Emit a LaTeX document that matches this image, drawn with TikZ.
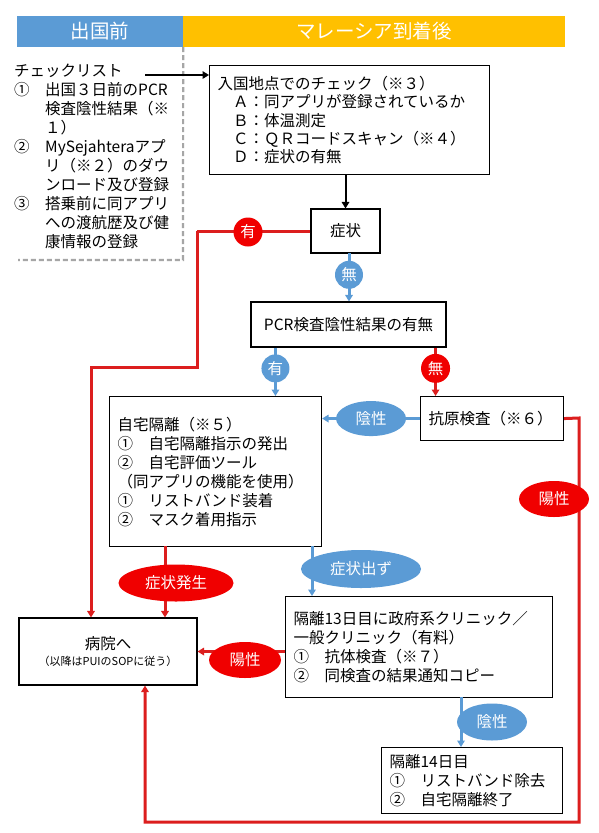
\documentclass[tikz,border=0pt]{standalone}
\usepackage{fontspec}
\setmainfont{Noto Sans CJK JP}
\usetikzlibrary{arrows.meta,shapes.geometric}
\definecolor{hblue}{HTML}{5B9BD5}
\definecolor{hyellow}{HTML}{FFC000}
\definecolor{hred}{HTML}{F00000}
\definecolor{lred}{HTML}{DC1E1E}
\definecolor{dgray}{HTML}{A6A6A6}
\tikzset{
  txt/.style={font=\fontsize{15.5}{19}\selectfont},
  box/.style={draw=black, line width=1.1pt, fill=white, inner xsep=8pt, inner ysep=0pt,
    align=left, anchor=north west, txt},
  cbox/.style={draw=black, line width=1.1pt, fill=white, inner sep=0pt, align=center, txt},
  hdr/.style={inner sep=0pt, minimum height=31, text=white, font=\fontsize{19.5}{22}\selectfont},
  tipA/.tip={Triangle[length=6.5pt,width=7.5pt]},
  karr/.style={line width=2pt, draw=black, -tipA},
  barr/.style={line width=3pt, draw=hblue, -tipA},
  rarr/.style={line width=3pt, draw=lred, -tipA},
  rline/.style={line width=3pt, draw=lred},
  bcirc/.style={circle, fill=hblue, text=white, inner sep=0pt, minimum size=28, txt},
  rcirc/.style={circle, fill=hred, text=white, inner sep=0pt, minimum size=29, txt},
  bell/.style={ellipse, fill=hblue, text=white, inner sep=0pt, txt},
  rell/.style={ellipse, fill=hred, text=white, inner sep=0pt, txt},
}
\begin{document}
\begin{tikzpicture}[x=1pt,y=-1pt]
\useasboundingbox[fill=white] (0,0) rectangle (599,833);

% headers
\node[hdr, fill=hblue, minimum width=166] (h1) at (100,31.5) {出国前};
\node[hdr, fill=hyellow, minimum width=382] (h2) at (374,31.5) {マレーシア到着後};
\draw[dgray, line width=2.2pt, dash pattern=on 5pt off 3pt] (h1.south east) -- (183,260) -- (18,260);

% checklist
\node[txt, align=left, anchor=north west, inner sep=0pt] (cl) at (14,64) {%
チェックリスト\\
①　出国３日前のPCR\\
\hphantom{①　}検査陰性結果（※\\
\hphantom{①　}１）\\
②　MySejahteraアプ\\
\hphantom{②　}リ（※２）のダウ\\
\hphantom{②　}ンロード及び登録\\
③　搭乗前に同アプリ\\
\hphantom{③　}への渡航歴及び健\\
\hphantom{③　}康情報の登録};

% entry check
\node[box, minimum width=280, minimum height=109, text width=264,
  font=\fontsize{15.5}{18.3}\selectfont] (entry) at (209,65) {%
入国地点でのチェック（※３）\\
　Ａ：同アプリが登録されているか\\
　Ｂ：体温測定\\
　Ｃ：ＱＲコードスキャン（※４）\\
　Ｄ：症状の有無};
\coordinate (clend) at (145,75);
\draw[karr] (clend) -- (clend -| entry.west);

% symptom
\node[cbox, minimum width=69, minimum height=44] (sym) at (345.5,231) {症状};
\draw[karr] (entry.south -| sym.north) -- (sym.north);

% PCR
\node[cbox, minimum width=195, minimum height=45] (pcr) at (348.5,324.5) {PCR検査陰性結果の有無};
\coordinate (symb) at (349,253);
\draw[barr] (symb) -- (symb |- pcr.north) node[pos=0.45, bcirc] (c1) {無};

% home quarantine
\node[box, minimum width=212, minimum height=150, text width=196] (home) at (109,396) {%
自宅隔離（※５）\\
①　自宅隔離指示の発出\\
②　自宅評価ツール\\
（同アプリの機能を使用）\\
①　リストバンド装着\\
②　マスク着用指示};

% antigen
\node[box, minimum width=143, minimum height=44, text width=127] (ag) at (420,396) {抗原検査（※６）};

\path (pcr.south west) ++(25,0) coordinate (p1);
\path (pcr.south east) ++(-11,0) coordinate (p2);
\draw[barr] (p1) -- (p1 |- home.north) node[pos=0.43, bcirc] (c2) {有};
\draw[rarr] (p2) -- (p2 |- ag.north) node[pos=0.43, rcirc] (c3) {無};

\coordinate (agw) at (ag.west);
\draw[barr] (agw) -- (agw -| home.east) node[midway, bell, minimum width=70, minimum height=35] (e1) {陰性};

% hospital
\node[cbox, minimum width=178, minimum height=67] (hosp) at (108,651.5) {%
病院へ\\[-3pt]{\fontsize{11}{13}\selectfont （以降はPUIのSOPに従う）}};

% left red path from symptom
\coordinate (r1) at (197,231);
\coordinate (r2) at (197,367);
\coordinate (r3) at (91,367);
\draw[rline] (sym.west) -- (r1);
\draw[rarr] (r1) -- (r2) -- (r3) -- (r3 |- hosp.north);
\node[rcirc] (c4) at (248,232) {有};

% home -> hospital (symptom)
\coordinate (hb1) at (165,546);
\draw[rarr] (hb1) -- (hb1 |- hosp.north);
\node[rell, minimum width=115, minimum height=37] (e2) at (176,583) {症状発生};

% clinic day 13
\node[box, minimum width=267, minimum height=101, text width=251] (c13) at (285,596) {%
隔離13日目に政府系クリニック／\\
一般クリニック（有料）\\
①　抗体検査（※７）\\
②　同検査の結果通知コピー};

\coordinate (hb2) at (312,546);
\draw[barr] (hb2) -- (hb2 |- c13.north);
\node[bell, minimum width=120, minimum height=38] (e3) at (361,569) {症状出ず};

\draw[rarr] (c13.west |- hosp.east) -- (hosp.east);
\node[rell, minimum width=72, minimum height=36] (e4) at (245,660) {陽性};

% day 14
\node[box, minimum width=181, minimum height=66, text width=165] (c14) at (381,747) {%
隔離14日目\\
①　リストバンド除去\\
②　自宅隔離終了};
\coordinate (cb) at (461,697);
\draw[barr] (cb) -- (cb |- c14.north);
\node[bell, minimum width=70, minimum height=37] (e5) at (492,722) {陰性};

% antigen positive -> hospital
\coordinate (a1) at (579,418);
\coordinate (a2) at (579,822);
\coordinate (a3) at (145,822);
\draw[rarr] (ag.east) -- (a1) -- (a2) -- (a3) -- (a3 |- hosp.south);
\node[rell, minimum width=70, minimum height=36] (e6) at (554,499) {陽性};
\end{tikzpicture}
\end{document}
